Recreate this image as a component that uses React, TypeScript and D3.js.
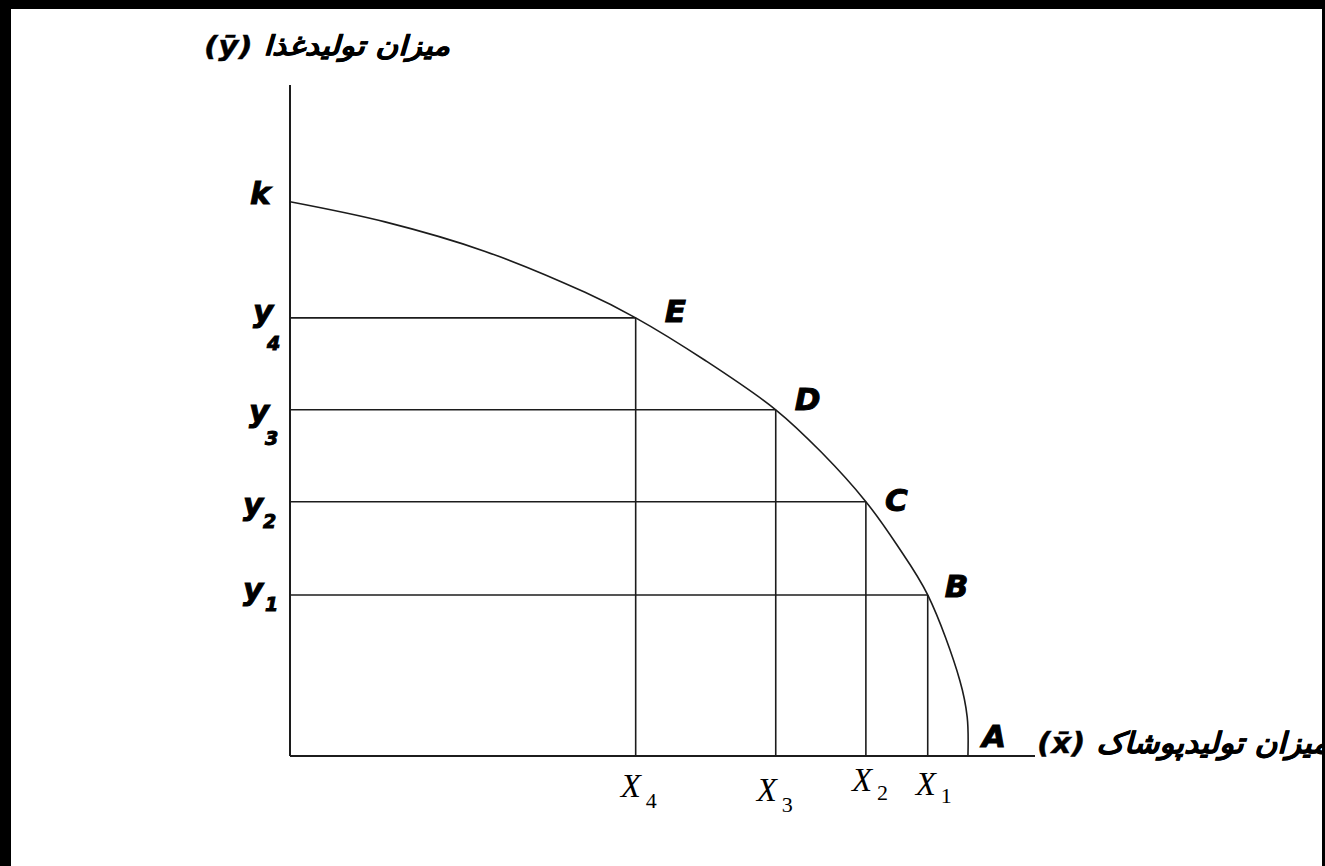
import React from "react";
import * as d3 from "d3";

// production possibility frontier, values in axis units (0-100)
const frontierX = [0, 12.75, 26.2, 39.6, 46.4, 55.8, 65.2, 71.3, 77.3, 81.5, 85.6, 89.9, 90.9, 91.0];
const frontierY = [82.6, 79.6, 75.2, 69.1, 65.3, 58.9, 51.6, 45.3, 37.9, 31.4, 24.0, 11.3, 5.8, 0];

const pointNames = ["E", "D", "C", "B"];
const pointX = [46.4, 65.2, 77.3, 85.6];
const pointY = [65.3, 51.6, 37.9, 24.0];
const subIndex = ["4", "3", "2", "1"];

const kValue = 82.6;
const aValue = 91.0;

const yTitle = "(ȳ) میزان تولیدغذا";
const xTitle = "(x̄) میزان تولیدپوشاک";

// hand placement of labels, like the original drawing (pixels)
const pointNudge = [[29, 4], [19, 0], [19, 9], [17, 2]];
const yNudge = [[-37, 4, -23, 32], [-41, 12, -25, 35], [-47, 13, -27, 26], [-47, 5, -25, 16]];
const xNudge = [[-15, 41, 11], [-19, 45, 11], [-14, 35, 9], [-12, 39, 8]];

const W = 1325;
const H = 866;

const App = () => {
  const x = d3.scaleLinear().domain([0, 100]).range([290, 1035]);
  const y = d3.scaleLinear().domain([0, 100]).range([756, 85]);

  const line = d3
    .line<number>()
    .x((d, i) => x(frontierX[i]))
    .y((d, i) => y(frontierY[i]))
    .curve(d3.curveCatmullRom.alpha(0.5));

  const ink = "#1c1c1c";
  const heavy = {
    fontFamily: "'DejaVu Sans', sans-serif",
    fontWeight: 700,
    fontStyle: "italic",
  } as React.CSSProperties;
  const serif = { fontFamily: "'Liberation Serif', serif" } as React.CSSProperties;

  return (
    <svg
      width={W}
      height={H}
      viewBox={`0 0 ${W} ${H}`}
      style={{ position: "absolute", left: 0, top: 0 }}
    >
      <rect x={0} y={0} width={W} height={H} fill="#000" />
      <rect x={11} y={9} width={1311} height={H - 9} fill="#fff" />

      {/* axes */}
      <line x1={x(0)} x2={x(0)} y1={y(100)} y2={y(0)} stroke={ink} strokeWidth={2} />
      <line x1={x(0)} x2={x(100)} y1={y(0)} y2={y(0)} stroke={ink} strokeWidth={2} />

      {/* guide lines */}
      {pointX.map((px, i) => (
        <g key={"g" + i} stroke={ink} strokeWidth={1.6}>
          <line x1={x(0)} x2={x(px)} y1={y(pointY[i])} y2={y(pointY[i])} />
          <line x1={x(px)} x2={x(px)} y1={y(pointY[i])} y2={y(0)} />
        </g>
      ))}

      <path d={line(frontierX) || ""} fill="none" stroke={ink} strokeWidth={1.6} />

      {/* point labels */}
      <g style={heavy} fill="#000" stroke="#000" strokeWidth={1}>
        {pointNames.map((n, i) => (
          <text
            key={n}
            x={x(pointX[i]) + pointNudge[i][0]}
            y={y(pointY[i]) + pointNudge[i][1]}
            fontSize={31}
          >
            {n}
          </text>
        ))}
        <text x={x(0) - 40} y={y(kValue) + 2} fontSize={31}>
          k
        </text>
        <text x={x(aValue) + 14} y={y(0) - 9} fontSize={31}>
          A
        </text>

        {/* y labels */}
        {pointY.map((py, i) => (
          <g key={"y" + i}>
            <text x={x(0) + yNudge[i][0]} y={y(py) + yNudge[i][1]} fontSize={31}>
              y
            </text>
            <text x={x(0) + yNudge[i][2]} y={y(py) + yNudge[i][3]} fontSize={19}>
              {subIndex[i]}
            </text>
          </g>
        ))}
      </g>

      {/* x labels */}
      {pointX.map((px, i) => (
        <g key={"x" + i} style={serif} fill="#000">
          <text x={x(px) + xNudge[i][0]} y={y(0) + xNudge[i][1]} fontSize={33} fontStyle="italic">
            X
          </text>
          <text
            x={x(px) + xNudge[i][0] + 25}
            y={y(0) + xNudge[i][1] + xNudge[i][2]}
            fontSize={22}
          >
            {subIndex[i]}
          </text>
        </g>
      ))}

      {/* axis titles */}
      <g style={heavy} fill="#000" stroke="#000" strokeWidth={0.4}>
        <text x={204} y={55} fontSize={27} textLength={246} lengthAdjust="spacingAndGlyphs">
          {yTitle}
        </text>
        <text x={1037} y={753} fontSize={29} textLength={292} lengthAdjust="spacingAndGlyphs">
          {xTitle}
        </text>
      </g>

      {/* right frame edge over the clipped title */}
      <rect x={1322} y={0} width={3} height={H} fill="#000" />
    </svg>
  );
};

export default App;
